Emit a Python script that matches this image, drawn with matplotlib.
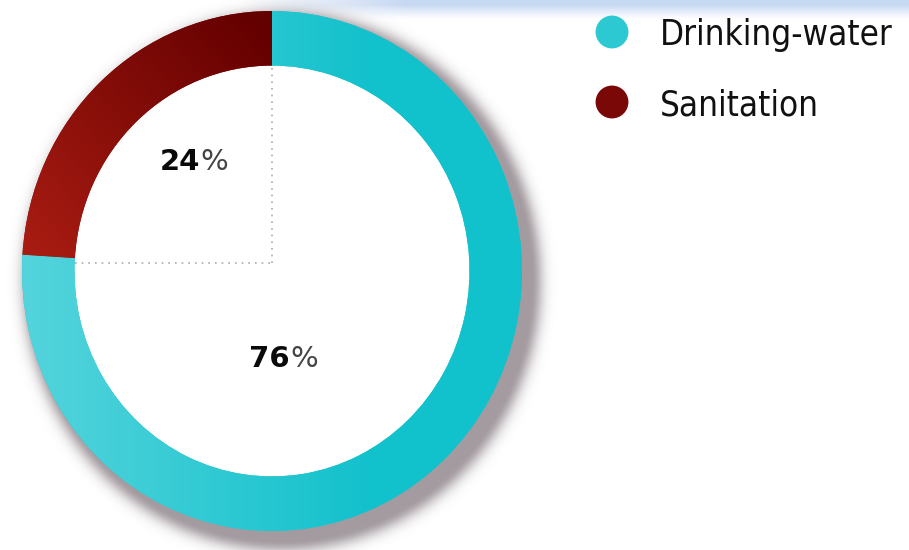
import numpy as np
import matplotlib
matplotlib.use('Agg')
import matplotlib.pyplot as plt
from matplotlib.colors import to_rgb

labels = ['Drinking-water', 'Sanitation']
shares = [76, 24]
colors = ['#22c7d1', '#8a0d09']
# light/dark ends used to shade each wedge
shade = [('#55d4dc', '#12c1cc'), ('#a81c12', '#640000')]

W, H = 909, 550
fig = plt.figure(figsize=(W / 100, H / 100), dpi=100)
fig.patch.set_facecolor('white')

# pale blue band along the top edge
band = fig.add_axes([0, 0, 1, 1])
band.set_xlim(0, W)
band.set_ylim(H, 0)
band.axis('off')
g = np.linspace(1, 0, 30)[:, None] * np.ones((1, 200))
band_rgba = np.zeros((30, 200, 4))
band_rgba[..., 0] = 0.78
band_rgba[..., 1] = 0.85
band_rgba[..., 2] = 0.95
band_rgba[..., 3] = np.clip(g * 1.3, 0, 1) ** 1.2
fade = np.clip(np.linspace(-0.3, 4, 200), 0, 1)
band_rgba[..., 3] *= fade[None, :]
band.imshow(band_rgba, extent=(190, W, 20, 0), aspect='auto', interpolation='bilinear')

# ring centre (272, 271) px, radii 250 x 260 px
cx, cy, rx, ry = 272, 271, 250, 260
ax = fig.add_axes([0, 0, 560 / W, 1])
x0, x1 = -cx / rx, (560 - cx) / rx
y0, y1 = (cy - H) / ry, cy / ry

# soft drop shadow outside the ring, towards the lower right
nx, ny = 560, 550
xs = np.linspace(x0, x1, nx)
ys = np.linspace(y1, y0, ny)
X, Y = np.meshgrid(xs, ys)
r = np.hypot(X - 10 / rx, Y + 10 / ry)
d_out = np.maximum((r - 1.0) * 255, 0)
a = 0.62 * np.exp(-(d_out / 12) ** 2)
a[np.hypot(X, Y) < 0.80] = 0
sh = np.zeros((ny, nx, 4))
sh[..., 0] = 0.42
sh[..., 1] = 0.37
sh[..., 2] = 0.40
sh[..., 3] = a
ax.imshow(sh, extent=(x0, x1, y0, y1), aspect='auto', interpolation='bilinear', zorder=0)

wedges, _ = ax.pie(shares, colors=colors, startangle=90, counterclock=False, radius=1,
                   wedgeprops=dict(width=0.21, linewidth=0, zorder=2))
ax.set_aspect('auto')
ax.set_xlim(x0, x1)
ax.set_ylim(y0, y1)
ax.axis('off')

# shading clipped to each wedge: cyan lighter to the left, red darker near the top
ramps = [np.clip((X + 1) / 1.4, 0, 1), np.clip((X + Y + 0.9) / 1.8, 0, 1)]
for w, (c_a, c_b), t in zip(wedges, shade, ramps):
    ca, cb = np.array(to_rgb(c_a)), np.array(to_rgb(c_b))
    img = ca[None, None, :] * (1 - t[..., None]) + cb[None, None, :] * t[..., None]
    im = ax.imshow(img, extent=(x0, x1, y0, y1), aspect='auto', zorder=2.5)
    im.set_clip_path(w)

# dotted guides from the centre
ax.plot([0, 0], [0.03, 0.79], linestyle=(0, (1, 3)), color='#aaaaaa', lw=1.2, zorder=3)
ax.plot([-0.79, 0], [0.03, 0.03], linestyle=(0, (1, 3)), color='#aaaaaa', lw=1.2, zorder=3)

# percentage labels: bold figures, lighter percent sign
label_pos = [(0.072, -0.34), (-0.288, 0.42)]
for val, (lx, ly) in zip(shares, label_pos):
    ax.text(lx, ly, f'{val}', ha='right', va='center', fontsize=21,
            fontweight='heavy', color='#0a0a0a', zorder=4)
    ax.text(lx, ly, '%', ha='left', va='center', fontsize=21,
            color='#444444', zorder=4)

# legend
legend_dot = ['#2cc9d2', '#7a0806']
for i, (lab, col) in enumerate(zip(labels, legend_dot)):
    yy = 32 + 70 * i
    band.scatter(612, yy, s=560, color=col, edgecolors='none', zorder=5)
    band.text(660, yy + 3, lab, ha='left', va='center', fontsize=25,
              family='DejaVu Sans', fontstretch='condensed',
              color='#111111', zorder=5)

fig.savefig('out.png', dpi=100, facecolor='white')
